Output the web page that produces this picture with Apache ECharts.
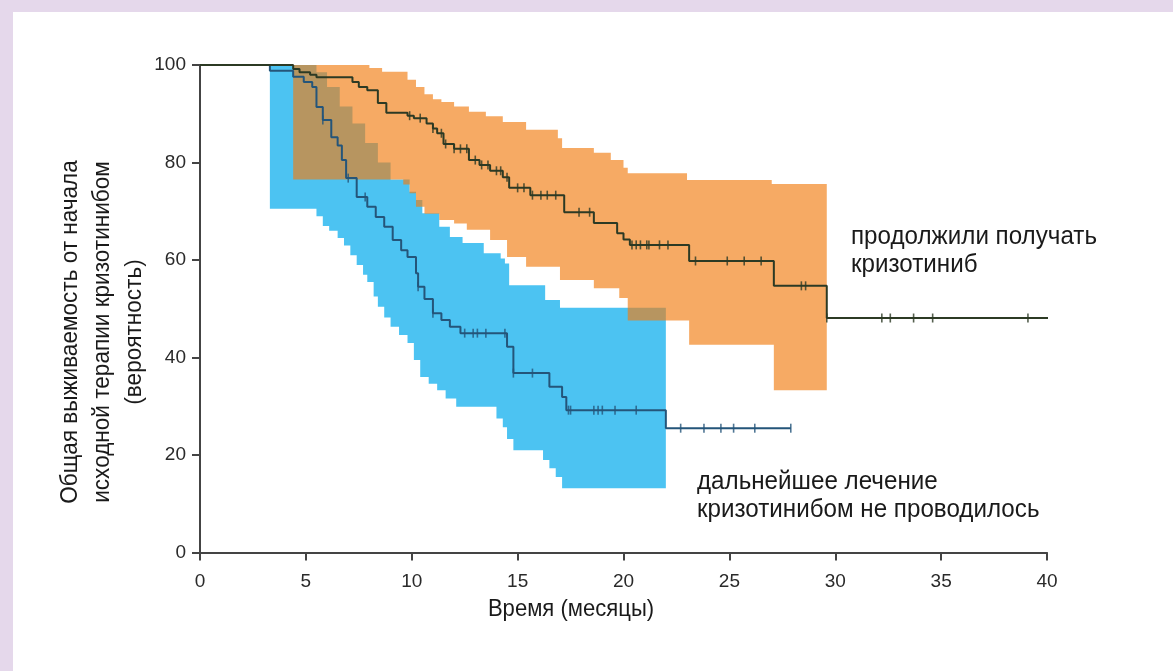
<!DOCTYPE html>
<html><head><meta charset="utf-8">
<script src="https://cdn.jsdelivr.net/npm/echarts@6/dist/echarts.min.js"></script>
<style>
html,body{margin:0;padding:0;width:1173px;height:671px;background:#e5d8eb;overflow:hidden}
#panel{position:absolute;left:13px;top:12px;width:1160px;height:659px;background:#fff}
#chart{position:absolute;left:0;top:0;width:1173px;height:671px}
</style></head>
<body><div id="panel"></div><div id="chart"></div>
<script>
// ---- data (time in months, survival in %) ----
var xTicks = [0,5,10,15,20,25,30,35,40];
var yTicks = [0,20,40,60,80,100];

// Kaplan–Meier: continued crizotinib
var contKM = [[0,100],[4.4,99.2],[4.7,98.5],[5.2,98],[5.5,97.5],[7.2,96.5],[7.5,95.5],[7.9,94.8],[8.4,92.2],[8.8,90.2],[9.8,89.6],[10.1,89.1],[10.7,88],[11.0,87],[11.2,86],[11.5,83.8],[12.0,82.8],[12.7,80.5],[13.2,79.5],[13.7,78.3],[14.3,77],[14.6,74.8],[15.6,73.3],[17.2,69.8],[18.6,67.6],[19.7,65.5],[20.0,64.2],[20.3,63.1],[23.1,59.8],[27.1,54.7],[29.6,48.1],[40.3,48.1]];
var contCensor = [9.9,10.4,11.0,11.4,11.6,12.0,12.3,12.6,13.0,13.3,13.6,14.0,14.2,14.5,15.0,15.3,15.7,16.1,16.4,16.8,17.9,18.4,20.4,20.6,20.8,21.1,21.2,21.7,22.1,23.4,24.9,25.7,26.5,28.4,28.6,29.6,32.2,32.6,33.7,34.6,39.1,40.2];
var contUpper = [[4.4,100],[8.0,99.4],[8.6,98.6],[9.8,97],[10.2,95.5],[10.6,94],[11.0,93],[11.4,92.4],[12.0,91.5],[12.7,90.4],[13.5,89.5],[14.3,88.3],[15.4,86.7],[16.9,85],[17.1,83],[18.6,82],[19.4,80.5],[20.0,78.9],[20.2,77.8],[23.0,76.4],[27.0,75.6],[29.6,75.6]];
var contLower = [[4.4,76.5],[9.6,75.5],[9.9,73.7],[10.2,70.9],[10.6,69.5],[11.3,68.2],[12.0,67.5],[12.6,66.2],[13.7,64.1],[14.5,60.6],[15.4,58.6],[17.0,55.9],[18.6,54.2],[19.8,52.2],[20.2,47.6],[23.1,42.6],[27.1,33.3],[29.6,33.3]];

// Kaplan–Meier: crizotinib discontinued
var stopKM = [[0,100],[3.3,98.8],[4.4,97.6],[4.9,96.5],[5.3,95.5],[5.5,91.4],[5.8,88.7],[6.2,85.2],[6.5,83.5],[6.7,80.5],[6.9,76.8],[7.4,72.9],[7.9,70.9],[8.3,68.8],[8.7,66.8],[9.1,64.1],[9.5,62],[9.8,60.6],[10.2,57.3],[10.3,54.5],[10.6,52],[11.0,49.1],[11.4,47.7],[11.8,46.3],[12.3,45.0],[14.5,42.2],[14.8,36.8],[16.5,34],[17.1,31.9],[17.3,29.2],[22.0,25.5],[27.9,25.5]];
var stopCensor = [5.8,7.0,7.8,10.3,11.0,12.5,12.9,13.1,13.5,14.4,14.8,15.7,17.4,17.5,18.6,18.8,19.0,19.6,20.6,22.7,23.8,24.6,25.2,26.2,27.9];
var stopUpper = [[3.3,100],[5.5,98.5],[6.0,95.5],[6.6,91.5],[7.2,88],[7.8,84],[8.4,80],[9.0,76.5],[9.9,74],[10.2,72.3],[10.5,69.6],[11.3,66.8],[11.8,64.7],[12.4,63.5],[13.4,61.4],[14.2,60.3],[14.4,59.3],[14.6,54.8],[16.3,51.8],[17.0,50.2],[22.0,50.2]];
var stopLower = [[3.3,70.5],[5.5,69],[5.8,67],[6.1,66],[6.5,64.5],[6.8,63],[7.1,61],[7.4,59],[7.7,57],[7.9,55.5],[8.2,52.5],[8.4,50.4],[8.7,48.2],[9.0,46.3],[9.4,44.6],[9.8,43],[10.1,39.5],[10.4,36],[10.8,34.6],[11.2,33.3],[11.6,31.6],[12.1,29.9],[14.0,27.5],[14.3,25.7],[14.5,23.3],[14.8,21],[16.2,19],[16.5,17.3],[16.8,15.5],[17.1,13.2],[22.0,13.2]];

var labelCont = ['продолжили получать', 'кризотиниб'];
var labelStop = ['дальнейшее лечение', 'кризотинибом не проводилось'];
var yName = ['Общая выживаемость от начала', 'исходной терапии кризотинибом', '(вероятность)'];
var xName = 'Время (месяцы)';

// ---- helpers ----
function kmAt(km, t){ var v = km[0][1]; for (var i=0;i<km.length;i++){ if (km[i][0] <= t + 1e-9) v = km[i][1]; } return v; }
function censorPts(km, times){ return times.map(function(t){ return [t, kmAt(km, t)]; }); }
function stepPath(arr){
  var p = [];
  for (var i=0;i<arr.length;i++){
    if (i>0) p.push([arr[i][0], arr[i-1][1]]);
    p.push([arr[i][0], arr[i][1]]);
  }
  return p;
}
function bandSeries(upper, lower, color, opacity, z){
  return {
    type:'custom', z:z, silent:true, data:[[0]],
    renderItem:function(params, api){
      var up = stepPath(upper), lo = stepPath(lower).reverse();
      var pts = up.concat(lo).map(function(d){ return api.coord(d); });
      return {type:'polygon', shape:{points:pts}, style:{fill:color, opacity:opacity}};
    }
  };
}
var cond = "'Liberation Sans', Arial, sans-serif";
var axisFont = "'Liberation Sans', Arial, sans-serif";

var chart = echarts.init(document.getElementById('chart'), null, {renderer:'canvas'});
chart.setOption({
  animation:false,
  backgroundColor:'transparent',
  grid:{left:200, right:126, top:65, bottom:118.5, containLabel:false},
  xAxis:{type:'value', min:0, max:40, interval:5,
    axisLine:{lineStyle:{color:'#444', width:2}},
    axisTick:{show:true, length:8, lineStyle:{color:'#444', width:2}},
    axisLabel:{color:'#2a2a2a', fontSize:19, fontFamily:axisFont, margin:20,
      formatter:function(v){ return xTicks.indexOf(v) >= 0 ? String(v) : ''; }},
    splitLine:{show:false}},
  yAxis:{type:'value', min:0, max:100, interval:20,
    axisLine:{show:true, lineStyle:{color:'#444', width:2}},
    axisTick:{show:true, length:8, lineStyle:{color:'#444', width:2}},
    axisLabel:{color:'#2a2a2a', fontSize:19, fontFamily:axisFont, margin:14,
      formatter:function(v){ return yTicks.indexOf(v) >= 0 ? String(v) : ''; }},
    splitLine:{show:false}},
  graphic:[
    {type:'text', x:102, y:332, rotation:Math.PI/2, scaleX:0.94, style:{text:yName.join('\n'), font:'24px '+cond, fill:'#1a1a1a', align:'center', verticalAlign:'middle', lineHeight:32}},
    {type:'text', x:571, y:609, scaleX:0.92, style:{text:xName, font:'24px '+cond, fill:'#1a1a1a', align:'center', verticalAlign:'middle'}},
    {type:'text', x:851, y:251, scaleX:0.93, style:{text:labelCont.join('\n'), font:'26px '+cond, fill:'#1a1a1a', align:'left', verticalAlign:'middle', lineHeight:28}},
    {type:'text', x:697, y:496, scaleX:0.93, style:{text:labelStop.join('\n'), font:'26px '+cond, fill:'#1a1a1a', align:'left', verticalAlign:'middle', lineHeight:28}}
  ],
  series:[
    bandSeries(stopUpper, stopLower, '#4cc3f2', 1, 1),
    bandSeries(contUpper, contLower, '#f17c11', 0.65, 2),
    {type:'line', step:'end', data:stopKM, symbol:'none', z:5, lineStyle:{color:'#24557a', width:2}},
    {type:'line', step:'end', data:contKM, symbol:'none', z:6, lineStyle:{color:'#2c3a24', width:2}},
    {type:'scatter', data:censorPts(stopKM, stopCensor), symbol:'rect', symbolSize:[1.6,9], z:7, itemStyle:{color:'#24557a'}},
    {type:'scatter', data:censorPts(contKM, contCensor), symbol:'rect', symbolSize:[1.6,9], z:8, itemStyle:{color:'#2c3a24'}}
  ]
});
</script></body></html>
